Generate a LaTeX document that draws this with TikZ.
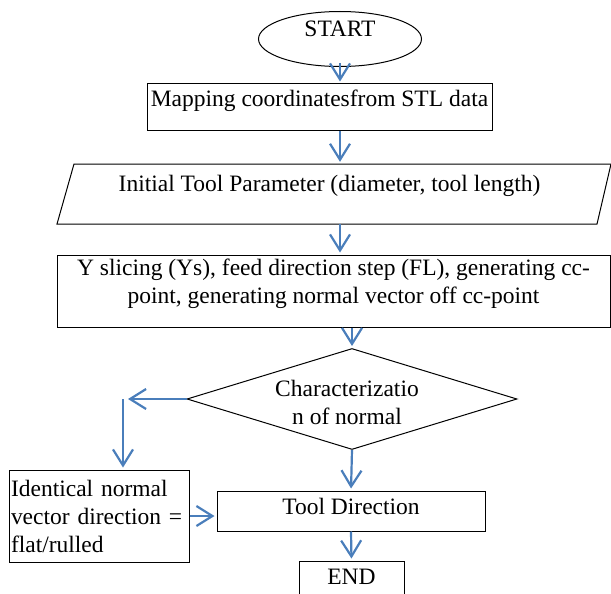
\documentclass[tikz,border=0pt]{standalone}
\usepackage{fontspec}
\setmainfont{Liberation Serif}
\usetikzlibrary{arrows.meta,shapes.geometric}
\definecolor{arrblue}{RGB}{74,126,187}
\begin{document}
\begin{tikzpicture}[x=1pt,y=-1pt,
  every node/.style={font=\fontsize{23.5}{28}\selectfont, inner sep=0pt},
  box/.style={draw, line width=1pt, rectangle},
  lbl/.style={font=\fontsize{23.5}{28}\selectfont, align=center, inner sep=0pt},
  arr/.style={draw=arrblue, line width=2.2pt, -{Straight Barb[length=16pt,width=20pt]}, shorten >=2pt}]
\useasboundingbox (0,0) rectangle (611,594);

\node[ellipse, draw, line width=1pt, minimum width=163pt, minimum height=55pt,
  label={[lbl,yshift=10pt]center:START}] (start) at (340,39) {};

\node[box, minimum width=345pt, minimum height=46pt,
  label={[lbl,yshift=6pt]center:Mapping coordinatesfrom STL data}] (map) at (319.5,107) {};

\node[minimum width=540pt, minimum height=60pt,
  label={[lbl,yshift=8pt,xshift=-4.5pt]center:Initial Tool Parameter (diameter, tool length)}] (param) at (334,194) {};
\draw[line width=1pt] (74,164) -- (611,164) -- (597,224) -- (57,224) -- cycle;

\node[box, minimum width=553pt, minimum height=72pt,
  label={[lbl,yshift=7pt]center:{Y slicing (Ys), feed direction step (FL), generating cc-\\point, generating normal vector off cc-point}}] (ys) at (333.5,291) {};

\node[diamond, draw, line width=1pt, minimum width=330pt, minimum height=101pt,
  label={[lbl,xshift=-5pt,yshift=-3pt]center:{Characterizatio\\n of normal}}] (dia) at (352,399) {};

\node[box, minimum width=180pt, minimum height=92pt, text width=176pt, align=left] (ident) at (99,516)
  {Identical normal\\vector direction =\\flat/rulled};

\node[box, minimum width=268pt, minimum height=40pt,
  label={[lbl,yshift=5pt]center:Tool Direction}] (tool) at (351,511) {};

\node[box, minimum width=105pt, minimum height=50pt,
  label={[lbl,yshift=9pt]center:END}] (end) at (351.5,586) {};

\coordinate (corner) at (123,399);

\draw[arr] ([yshift=4pt]start.south) -- (start.south |- map.north);
\draw[arr] (map.south -| start) -- (param.north -| start);
\draw[arr] (param.south -| start) -- (ys.north -| start);
\draw[arr] (ys.south -| dia) -- (dia.north);
\draw[arr, shorten >=5pt] (dia.west) -- (corner);
\draw[arr] (corner) -- (corner |- ident.north);
\draw[arr] (ident.east) -- (ident.east -| tool.west);
\draw[arr] (dia.south) -- (tool.north);
\draw[arr] (tool.south) -- (end.north);
\end{tikzpicture}
\end{document}
